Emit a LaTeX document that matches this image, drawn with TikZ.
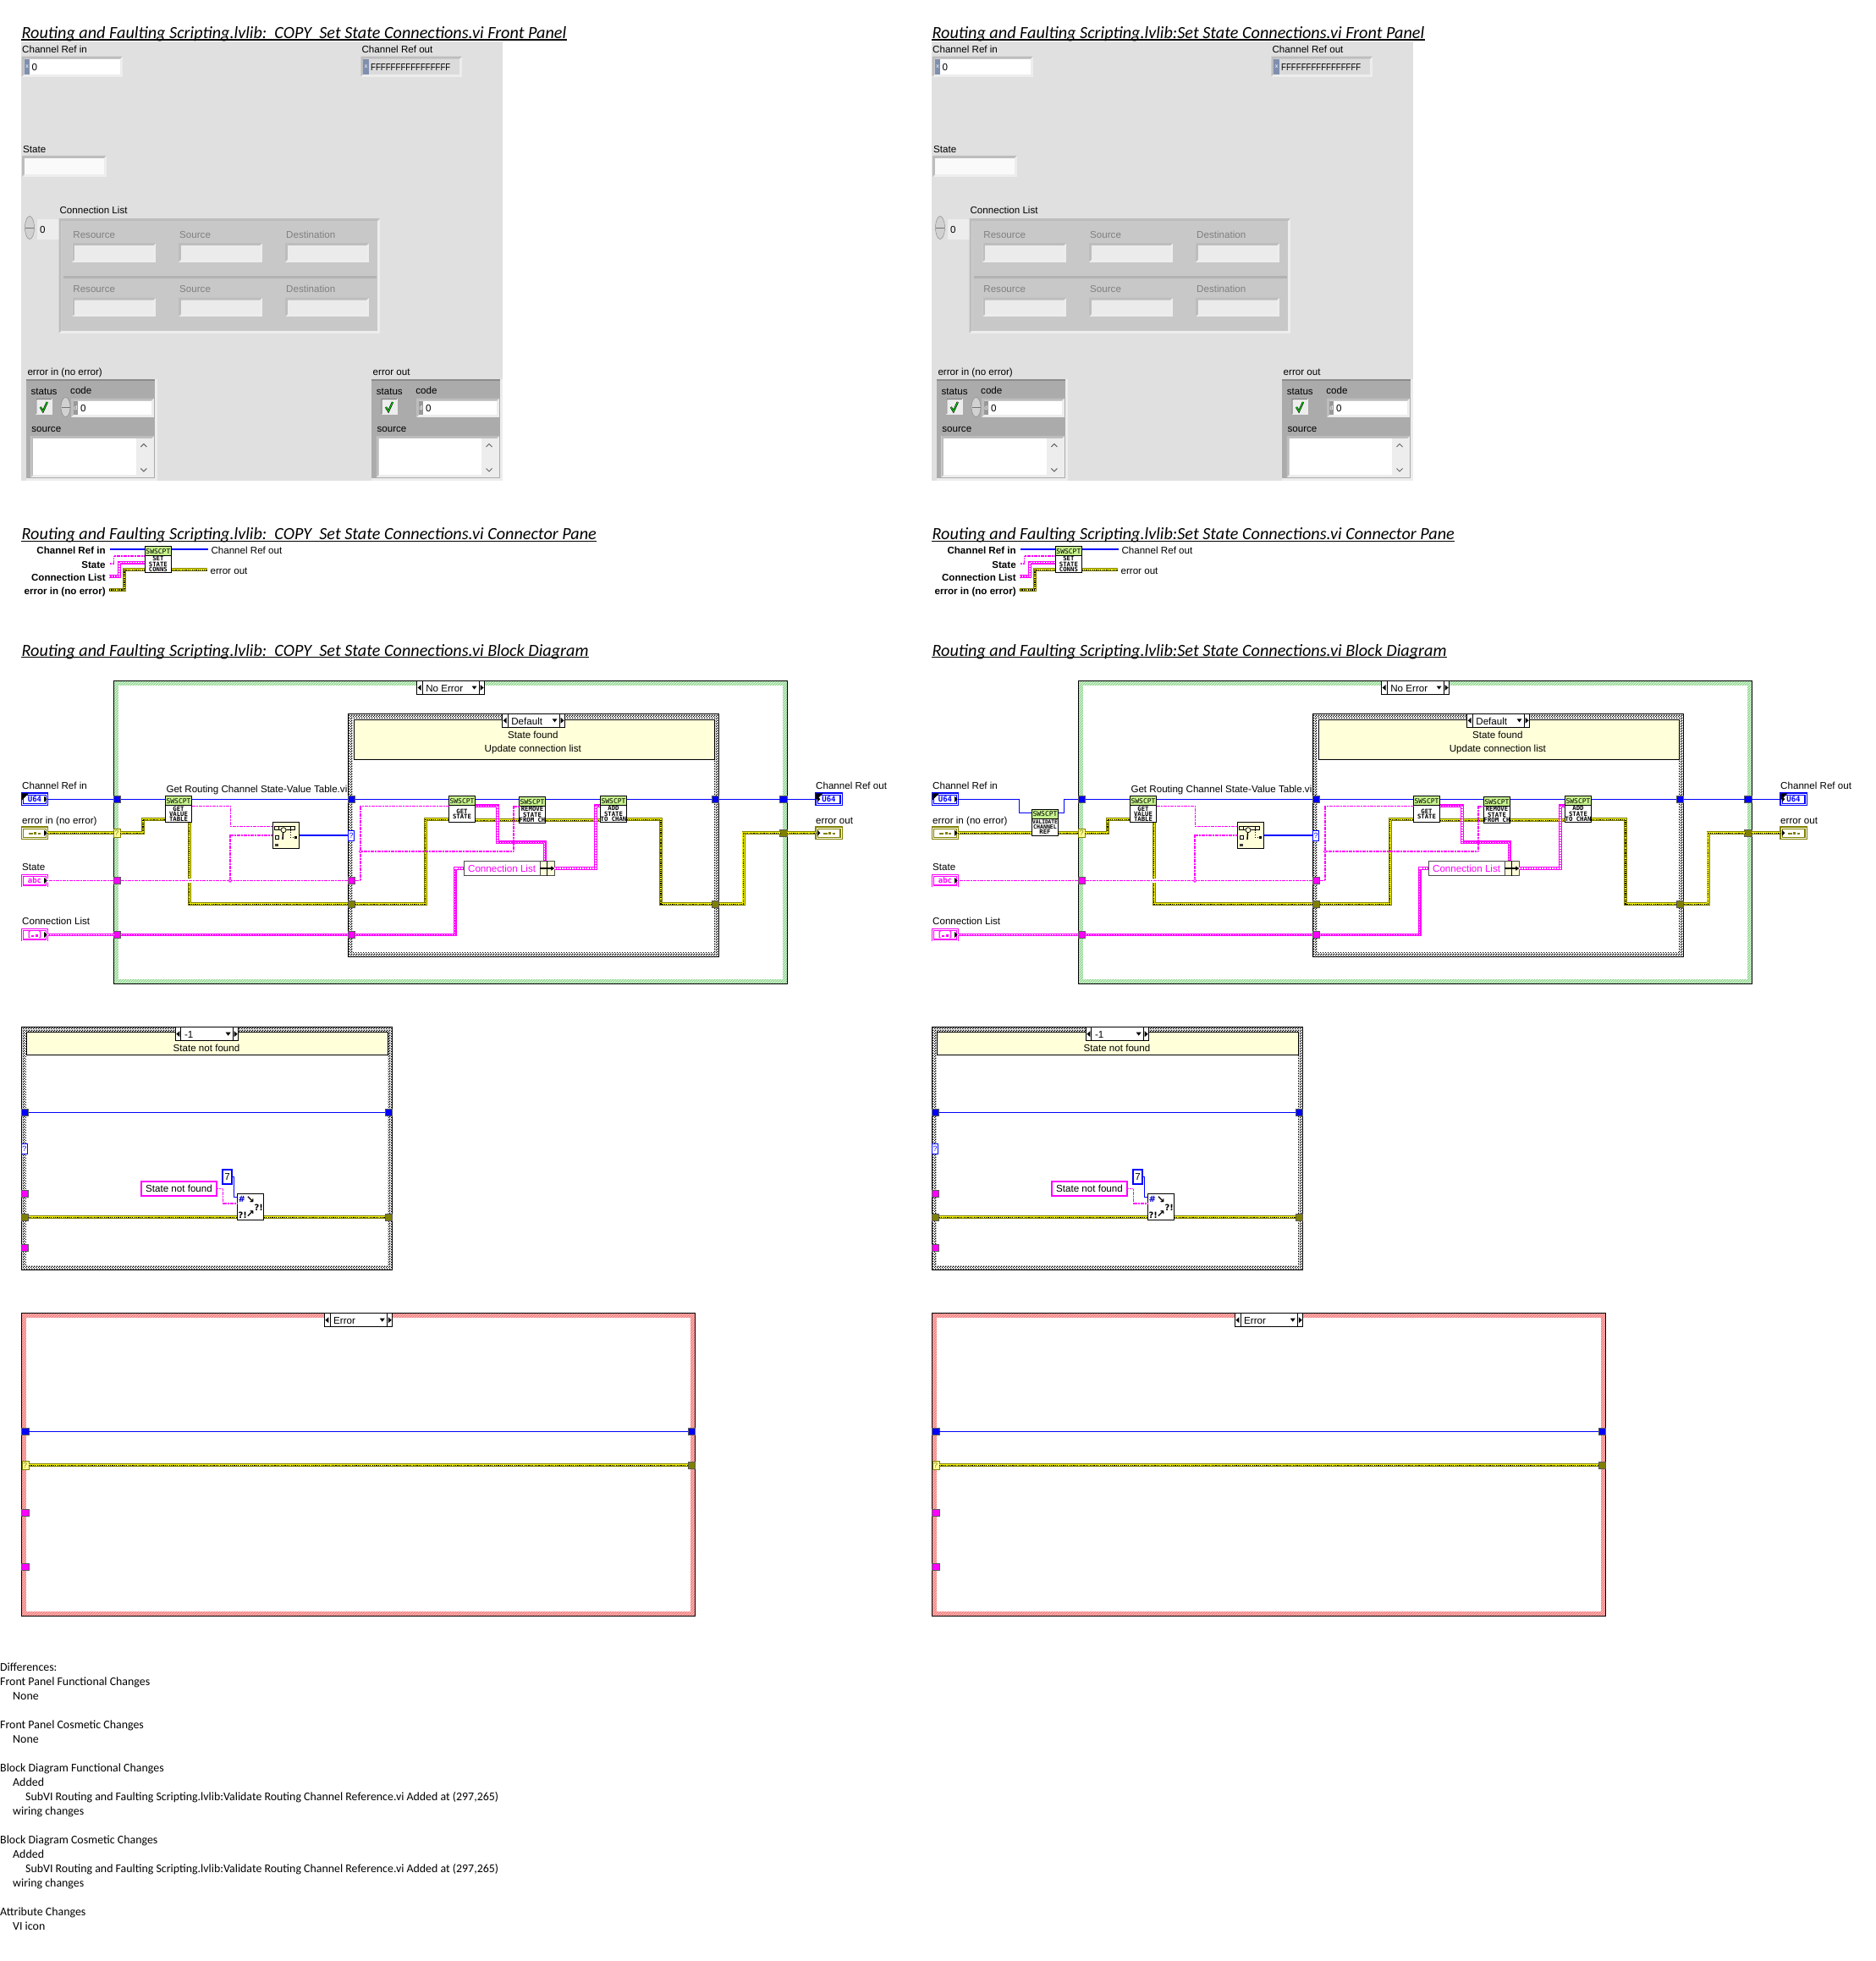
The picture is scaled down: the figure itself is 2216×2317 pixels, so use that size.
\documentclass[tikz,border=0pt]{standalone}
\usepackage{fontspec}
\usetikzlibrary{arrows.meta,positioning,patterns}
\setmainfont{Liberation Sans}
\newfontfamily\carlito{Carlito}
\newfontfamily\iconfont{DejaVu Sans Mono}
\newfontfamily\symfont{DejaVu Sans}
\definecolor{PanelGrey}{HTML}{E0E0E0}
\definecolor{RecessLight}{HTML}{EDEDED}
\definecolor{RecessDark}{HTML}{BDBDBD}
\definecolor{ArrayGrey}{HTML}{C8C8C8}
\definecolor{ClusterDark}{HTML}{ABABAB}
\definecolor{RadixBlue}{HTML}{7F8FAF}
\definecolor{WireBlue}{HTML}{0000FF}
\definecolor{WireMag}{HTML}{FF00FF}
\definecolor{WireOlive}{HTML}{808000}
\definecolor{WireYellow}{HTML}{F4F400}
\definecolor{HatchGreen}{HTML}{CFF2CF}
\definecolor{LineGreen}{HTML}{7CC87C}
\definecolor{HatchRed}{HTML}{FBB0B0}
\definecolor{LineRed}{HTML}{F07070}
\definecolor{Cream}{HTML}{FFFFD9}
\definecolor{HeadGreen}{HTML}{C6F28C}
\pgfdeclarepatternformonly{dither}{\pgfqpoint{0pt}{0pt}}{\pgfqpoint{3pt}{3pt}}{\pgfqpoint{3pt}{3pt}}{%
  \pgfpathrectangle{\pgfqpoint{0pt}{0pt}}{\pgfqpoint{1.5pt}{1.5pt}}%
  \pgfpathrectangle{\pgfqpoint{1.5pt}{1.5pt}}{\pgfqpoint{1.5pt}{1.5pt}}%
  \pgfusepath{fill}}
\tikzset{
  lvlabel/.style={font=\fontsize{11.6}{13}\selectfont,inner sep=0pt,anchor=west,text height=12pt,text depth=2pt},
  paneltext/.style={lvlabel,text=#1},
  panebold/.style={lvlabel,anchor=east,font=\fontsize{11.6}{13}\selectfont\bfseries},
  tinytext/.style={font=\fontsize{7}{7}\selectfont,inner sep=0pt,text=white},
  titletext/.style={font=\fontsize{20.2}{22}\selectfont\carlito\itshape,inner sep=0pt,anchor=south west,text depth=1.5pt},
  titlerule/.style={line width=1.5pt,draw=black},
  refwire/.style={draw=WireBlue,line width=1.1pt},
  strwire/.style={draw=WireMag,line width=1.6pt,dash pattern=on 1.2pt off 0.4pt},
  overwire/.style={preaction={draw=white,solid,line width=5pt}},
  errwire/.style={preaction={draw=WireOlive,solid,line width=4pt},preaction={draw=WireYellow,solid,line width=2.2pt},
    draw=black,line width=1.2pt,dash pattern=on 1.2pt off 1.2pt},
  clusterwire/.style={preaction={draw=WireMag,solid,line width=3.8pt},draw=white,line width=1.4pt,dash pattern=on 1.5pt off 1.5pt},
  tunnel/.style={draw=black!65,fill=#1,minimum size=8.4pt,inner sep=0pt,outer sep=0pt,line width=0.7pt},
  qbox/.style={draw=WireBlue,fill=white,text=WireBlue,minimum width=7.3pt,minimum height=11.4pt,inner sep=0pt,font=\fontsize{9}{9}\selectfont},
  qyellow/.style={draw=WireOlive,fill=Cream!70!yellow,text=WireOlive,minimum width=8pt,minimum height=10.6pt,inner sep=0pt,font=\fontsize{9}{9}\selectfont},
  junction/.style={circle,draw=WireMag,fill=white,line width=0.8pt,minimum size=3.4pt,inner sep=0pt},
  termbox/.style={draw=#1,text=#1,fill=white,double=white,double distance=0.7pt,line width=1.2pt,minimum width=29pt,minimum height=12.7pt,
    inner sep=0pt,font=\fontsize{9}{9}\selectfont\iconfont\bfseries},
  vibox/.style={draw=black,fill=white,line width=0.9pt,minimum width=31.4pt,minimum height=31.4pt,inner sep=0pt,outer sep=0pt},
  vihead/.style={draw=black,fill=HeadGreen,line width=0.7pt,minimum width=31.4pt,minimum height=11pt,inner sep=0pt,
    font=\fontsize{8}{8}\selectfont\iconfont},
  vitext/.style={align=center,inner sep=0pt,font=\fontsize{7.3}{6.2}\selectfont\iconfont\bfseries},
  greenframe/.style={anchor=north west,draw=black,line width=1pt,preaction={fill=HatchGreen},pattern=north east lines,pattern color=LineGreen,inner sep=0pt,outer sep=0pt},
  redframe/.style={anchor=north west,draw=black,line width=1pt,preaction={fill=HatchRed},pattern=north east lines,pattern color=LineRed,inner sep=0pt,outer sep=0pt},
  caseframe/.style={anchor=north west,draw=black,line width=1pt,preaction={fill=white},pattern=dither,pattern color=black,inner sep=0pt,outer sep=0pt},
  framehole/.style={fill=white,inner sep=0pt,outer sep=0pt},
  subnote/.style={anchor=north west,draw=black,fill=Cream,line width=0.9pt,inner sep=0pt},
  selbox/.style={draw=black,fill=white,line width=0.9pt,inner sep=0pt,minimum height=16.4pt},
  constbox/.style={draw=#1,fill=white,line width=2pt,inner sep=0pt,font=\fontsize{11.6}{13}\selectfont},
}
% recessed control frame: x1,y1,x2,y2,inner colour
\newcommand{\recessbox}[5]{%
  \fill[RecessLight] (#1,#2) rectangle (#3,#4);
  \fill[RecessDark] (#1,#2) -- (#3,#2) -- ({#3-3},{#2+3}) -- ({#1+3},{#2+3}) -- ({#1+3},{#4-3}) -- (#1,#4) -- cycle;
  \fill[#5] ({#1+3},{#2+3}) rectangle ({#3-3},{#4-3});
}
\newcommand{\spinner}[3]{%
  \draw[black!45,fill=black!18,line width=0.5pt] (#1,#2) ellipse (5.5pt and #3pt);
  \draw[black!55,line width=0.5pt] ({#1-5},#2) -- ({#1+5},#2);
}
% title with its rule: name, y of rule, text
\newcommand{\titleline}[3]{%
  \node[titletext] (#1) at (25.4,#2) {#3};
  \draw[titlerule] (#1.south west) -- (#1.south east);
}
% subVI with green banner: name, centre, caption
\newcommand{\vinode}[3]{%
  \node[vibox] (#1) at (#2) {};
  \node[vihead,anchor=north] (#1head) at (#1.north) {SWSCPT};
  \node[vitext] (#1text) at ([yshift=-5.5pt]#1.center) {#3};
}
% case selector: name, centre, width, text
\newcommand{\caseselect}[4]{%
  \node[selbox,minimum width=#3pt] (#1) at (#2) {};
  \node[lvlabel] (#1text) at ([xshift=11pt]#1.west) {#4};
  \draw[line width=0.8pt] ([xshift=7pt]#1.north west) -- ([xshift=7pt]#1.south west);
  \draw[line width=0.8pt] ([xshift=-7pt]#1.north east) -- ([xshift=-7pt]#1.south east);
  \fill ([xshift=1.5pt]#1.west) -- ++(4,3.5) -- ++(0,-7) -- cycle;
  \fill ([xshift=-1.5pt]#1.east) -- ++(-4,3.5) -- ++(0,-7) -- cycle;
  \fill ([xshift=-9.5pt,yshift=2pt]#1.east) -- ++(-6,0) -- ++(3,4) -- cycle;
}
% error cluster on the front panel: name, left x, label
\newcommand{\errcluster}[3]{%
  \begin{scope}[xshift=#2pt]
    \node[lvlabel] (#1label) at (1.5,438.5) {#3};
    \fill[RecessLight] (0,447.7) rectangle (155,568);
    \fill[ClusterDark] (0,447.7) rectangle (152,565);
    \fill[black!45] (0,447.7) rectangle (152,449.5);
    \node[lvlabel] (#1status) at (5.6,461) {status};
    \node[lvlabel] (#1code) at (52.2,460) {code};
    \fill[RecessLight] (11.5,471) rectangle (31.2,490);
    \fill[black!50] (11.5,471) rectangle (30,472) (11.5,471) rectangle (12.5,489);
    \draw[black,line width=2.2pt] (17,481) -- (20,486) -- (25,475);
    \draw[green!85!black,line width=1pt] (17,481) -- (20,486) -- (25,475);
    \recessbox{53.2}{470.6}{151}{492.8}{white}
    \fill[black!40] (55.8,473.6) rectangle (61.2,489.8);
    \node[tinytext] (#1radix) at (58.5,481.7) {d};
    \node[lvlabel] (#1zero) at (64,481.7) {0};
    \node[lvlabel] (#1source) at (6.4,505.5) {source};
    \recessbox{5.6}{515}{151.2}{564}{white}
    \fill[RecessLight] (130.2,518) rectangle (148.2,561);
    \draw[line width=1pt,black!60] (135.5,528) -- (139,524.5) -- (142.5,528);
    \draw[line width=1pt,black!60] (135.5,553.5) -- (139,557) -- (142.5,553.5);
  \end{scope}
}
\begin{document}
\begin{tikzpicture}[x=1pt,y=-1pt]
  \path[use as bounding box,fill=white] (0,0) rectangle (2216,2317);

  \foreach \pre/\dx/\vi in {L/0/{Routing and Faulting Scripting.lvlib:\ \ COPY\ \ Set State Connections.vi},
                            R/1076/{Routing and Faulting Scripting.lvlib:Set State Connections.vi}}{
  \begin{scope}[xshift=\dx pt,name prefix=\pre-]
    % Front panel
    \fill[PanelGrey] (25,49) rectangle (593.5,568);
    \titleline{fptitle}{47}{\vi\ Front Panel}
    \node[lvlabel] (fpref) at (26,57.7) {Channel Ref in};
    \recessbox{25.7}{66.6}{144.7}{90.6}{white}
    \fill[RadixBlue] (28.7,69.6) rectangle (35.2,87.6);
    \node[tinytext] (fprefx) at (32,78.6) {x};
    \node[lvlabel] (fprefval) at (37.5,78.6) {0};
    \node[lvlabel] (fpout) at (427.4,57.7) {Channel Ref out};
    \recessbox{426.3}{66.6}{546}{90.6}{black!14}
    \fill[RadixBlue] (429.3,69.6) rectangle (436,87.6);
    \node[tinytext] (fpoutx) at (432.6,78.6) {x};
    \node[lvlabel] (fpoutval) at (438,78.6) {\scalebox{0.83}[1]{FFFFFFFFFFFFFFFF}};
    \node[lvlabel] (fpstate) at (27,176) {State};
    \recessbox{26}{184}{125.7}{209}{black!2}

    % Connection list array
    \node[lvlabel] (fpconn) at (70.4,248) {Connection List};
    \spinner{35}{269}{13.5}
    \fill[RecessLight] (43.5,259) rectangle (69.6,283);
    \node[lvlabel] (fpindex) at (47,270.8) {0};
    \recessbox{69.6}{258.2}{448.8}{393.6}{ArrayGrey}
    \fill[black!30] (75,325.6) rectangle (444.8,329.3);
    \foreach \row/\ly/\by in {a/276/287,b/340/351.5}{
      \node[paneltext=black!50] (res\row) at (86.2,\ly) {Resource};
      \node[paneltext=black!50] (src\row) at (212,\ly) {Source};
      \node[paneltext=black!50] (dst\row) at (338,\ly) {Destination};
      \foreach \bx in {85.4,211.1,337}{
        \recessbox{\bx}{\by}{\bx+99}{\by+22.5}{black!8}
      }
    }

    % Error clusters
    \errcluster{errin}{30.8}{error in (no error)}
    \spinner{77.5}{481}{11.5}
    \errcluster{errout}{439}{error out}

    % Connector pane
    \titleline{cptitle}{639.3}{\vi\ Connector Pane}
    \vinode{panevi}{186.9,661}{SET\\STATE\\CONNS}
    \node[panebold] (paneref) at (124.9,649) {Channel Ref in};
    \node[panebold] (panestate) at (124.9,666) {State};
    \node[panebold] (paneconn) at (124.9,681) {Connection List};
    \node[panebold] (paneerr) at (124.9,697) {error in (no error)};
    \node[lvlabel] (paneout) at (249.3,649) {Channel Ref out};
    \node[lvlabel] (paneerrout) at (248.4,673.3) {error out};
    \draw[refwire] ([xshift=4.6pt]paneref.east) -- (paneref -| panevi.west);
    \draw[strwire] ([xshift=4.6pt]panestate.east) -- ++(5,0) |- ([yshift=4.3pt]panevi.west);
    \draw[clusterwire] ([xshift=3.6pt]paneconn.east) -- ++(12.5,0) |- ([yshift=-3.7pt]panevi.west);
    \draw[errwire] ([xshift=4pt]paneerr.east) -- ++(18,0) |- ([yshift=-12.3pt]panevi.west);
    \draw[refwire] (paneref -| panevi.east) -- ([xshift=-3.5pt]paneout.west |- paneref);
    \draw[errwire] ([yshift=-12.3pt]panevi.east) -- ([xshift=-3.5pt]paneerrout.west);

    % Block diagram title and terminals
    \titleline{bdtitle}{776.7}{\vi\ Block Diagram}
    \node[lvlabel] (lblrefin) at (26,927.7) {Channel Ref in};
    \node[lvlabel] (lblerrin) at (26,968) {error in (no error)};
    \node[lvlabel] (lblstate) at (26,1023.7) {State};
    \node[lvlabel] (lblconn) at (26,1087.7) {Connection List};
    \node[termbox=WireBlue] (crefin) at (41,944.3) {U64};
    \node[termbox=WireOlive] (cerrin) at (41,984.3) {\rule{5pt}{2pt}\,\rule{3pt}{3pt}\,\rule{3pt}{2pt}};
    \node[termbox=WireMag] (cstate) at (41,1040.5) {abc};
    \node[termbox=WireMag] (cconn) at (41,1104.5) {[\rule{3pt}{2pt}\,\rule{3pt}{3pt}]};
    \fill (crefin.north west) -- ++(8,0) -- ++(-8,8) -- cycle;
    \foreach \term in {crefin,cerrin,cstate,cconn}{
      \fill ([xshift=-0.5pt]\term.east) -- ++(-3.5,3.5) -- ++(0,-7) -- cycle;
    }

    % Case "State not found"
    \node[caseframe,minimum width=438.4pt,minimum height=287.4pt] (nofound) at (25.3,1213.3) {};
    \node[framehole,minimum width=426.4pt,minimum height=275.4pt] (nofoundin) at (nofound.center) {};
    \node[subnote,minimum width=426.4pt,minimum height=26.4pt] (nofoundnote) at (31.3,1219.3) {};
    \node[lvlabel,anchor=center] (nofoundtext) at (244,1237.7) {State not found};
    \caseselect{nofoundsel}{244.5,1221.7}{74.4}{-1}
    \node[tunnel=WireBlue] (nfrefl) at (29.6,1314.3) {};
    \node[tunnel=WireBlue] (nfrefr) at (459.4,1314.3) {};
    \node[qbox] (nfq) at (29,1357) {?};
    \node[tunnel=WireMag] (nfstate) at (29.6,1410.3) {};
    \node[tunnel=WireOlive] (nferrl) at (29.6,1438.3) {};
    \node[tunnel=WireOlive] (nferrr) at (459.4,1438.3) {};
    \node[tunnel=WireMag] (nfconn) at (29.6,1474.3) {};
    \node[vibox] (nfvi) at (296,1426) {};
    \node[constbox=WireMag,minimum width=89pt,minimum height=16.4pt] (nfstr) at (211.5,1404.5) {State not found};
    \node[constbox=WireBlue,minimum width=11pt,minimum height=17pt] (nfcode) at (268.5,1390.5) {7};
    \node[inner sep=0pt,font=\fontsize{10}{10}\selectfont\symfont\bfseries,text=WireBlue!80!black] (nfhash) at (285.7,1417) {\#};
    \node[inner sep=0pt,font=\fontsize{12}{12}\selectfont\symfont\bfseries] (nfarrow) at (296,1417.7) {↘};
    \node[inner sep=0pt,font=\fontsize{10}{10}\selectfont\symfont\bfseries] (nfbang) at (305.7,1426.7) {?!};
    \node[inner sep=0pt,font=\fontsize{10}{10}\selectfont\symfont\bfseries] (nfbangb) at (286.7,1435.3) {?!};
    \node[inner sep=0pt,font=\fontsize{12}{12}\selectfont\symfont\bfseries] (nfarrowb) at (296,1434.3) {↗};
    \draw[refwire] (nfrefl.east) -- (nfrefr.west);
    \draw[errwire] (nferrl.east) -- (nferrl -| nfvi.west);
    \draw[errwire] (nferrl -| nfvi.east) -- (nferrr.west);
    \draw[refwire] (nfcode.east) -- (276.6,1390.5) |- ([yshift=11.7pt]nfvi.west);
    \draw[strwire] (nfstr.east) -- (263.3,1404.5) |- ([yshift=4.3pt]nfvi.west);

    % Case "Error"
    \node[redframe,minimum width=796pt,minimum height=357.6pt] (errcase) at (25.7,1551.7) {};
    \node[framehole,minimum width=785.4pt,minimum height=347pt] (errcasein) at (errcase.center) {};
    \caseselect{errsel}{423.6,1559.7}{80.4}{Error}
    \node[tunnel=WireBlue] (ecrefl) at (29.7,1691.3) {};
    \node[tunnel=WireBlue] (ecrefr) at (817.6,1691.3) {};
    \node[qyellow] (ecq) at (29.7,1731.3) {?};
    \node[tunnel=WireOlive] (ecerrr) at (817.6,1731.3) {};
    \node[tunnel=WireMag] (ecstate) at (29.7,1787.3) {};
    \node[tunnel=WireMag] (ecconn) at (29.7,1851.3) {};
    \draw[refwire] (ecrefl.east) -- (ecrefr.west);
    \draw[errwire] (ecq.east) -- (ecerrr.west);
  \end{scope}
  }

  \foreach \pre/\dx in {L/0,R/1140}{
  \begin{scope}[xshift=\dx pt,name prefix=\pre-]
    % No Error frame
    \node[greenframe,minimum width=796pt,minimum height=358pt] (noerr) at (134.3,804.3) {};
    \node[framehole,minimum width=785.4pt,minimum height=347.4pt] (noerrin) at (noerr.center) {};
    \node[lvlabel] (getvallabel) at (196.3,931.7) {Get Routing Channel State-Value Table.vi};
    \caseselect{noerrsel}{532.6,812.5}{80}{No Error}

    % Default case
    \node[caseframe,minimum width=438.2pt,minimum height=287.4pt] (defcase) at (411.3,843.3) {};
    \node[framehole,minimum width=426.2pt,minimum height=275.4pt] (defcasein) at (defcase.center) {};
    \node[subnote,minimum width=425.9pt,minimum height=47.3pt] (defnote) at (417.7,850) {};
    \node[lvlabel,anchor=center] (defnotea) at (629.8,867.7) {State found};
    \node[lvlabel,anchor=center] (defnoteb) at (629.8,883) {Update connection list};
    \caseselect{defsel}{630.6,851.3}{74}{Default}

    % Tunnels
    \node[tunnel=WireBlue] (tref) at (138.5,944.3) {};
    \node[qyellow] (qerr) at (138,984.3) {?};
    \node[tunnel=WireMag] (tstate) at (138.5,1040.5) {};
    \node[tunnel=WireMag] (tconn) at (138.5,1104.5) {};
    \node[tunnel=WireBlue] (tcref) at (415.5,944.3) {};
    \node[qbox] (qcase) at (415,987) {?};
    \node[tunnel=WireMag] (tcstate) at (415.5,1040.5) {};
    \node[tunnel=WireOlive] (tcerr) at (415.5,1068.3) {};
    \node[tunnel=WireMag] (tcconn) at (415.5,1104.5) {};
    \node[tunnel=WireBlue] (tcrefr) at (845.3,944.3) {};
    \node[tunnel=WireOlive] (tcerrr) at (845.3,1068.3) {};
    \node[tunnel=WireBlue] (trefr) at (926,944.3) {};
    \node[tunnel=WireOlive] (terrr) at (926,984.3) {};

    % SubVIs and property node
    \vinode{getval}{211,956}{GET\\VALUE\\TABLE}
    \vinode{getstate}{546,956}{GET\\STATE}
    \vinode{remove}{629,957}{REMOVE\\STATE\\FROM CH}
    \vinode{addstate}{725,956}{ADD\\STATE\\TO CHAN}
    \node[draw=black,fill=Cream,minimum size=31.4pt,inner sep=0pt,line width=0.9pt] (search) at (338,987) {};
    \draw[black,line width=0.6pt] (324,976.3) rectangle (348.7,980.7) (329,976.3) -- (329,980.7) (343.7,976.3) -- (343.7,980.7);
    \draw[black,fill=Cream,line width=0.7pt] (335,980.7) circle (3pt);
    \draw[black,line width=1.4pt] (334.5,984) -- (334,992);
    \draw[black,fill=white,line width=0.7pt] (325.5,987) rectangle (329.5,991);
    \fill[black!75] (325,997) rectangle (329,999.5);
    \draw[black,dotted,line width=0.7pt] (343,980.7) -- (343,989) -- (348,989);
    \fill[black] (348,987.5) rectangle (351,990.5);
    \node[draw=black!70,fill=white,text=WireMag,inner sep=0pt,minimum width=90.2pt,minimum height=17.4pt,line width=0.8pt,font=\fontsize{11.6}{13}\selectfont] (connlist) at (593.1,1026) {Connection List};
    \node[draw=black!70,fill=Cream,inner sep=0pt,minimum width=16.8pt,minimum height=17.4pt,line width=0.8pt] (connio) at (646.6,1026) {};
    \draw[line width=0.8pt] (connio.north) -- (connio.south);
    \draw[-{Latex[length=4pt,width=6pt]},line width=1.8pt] (connio.west) -- (connio.east);

    % Indicators
    \node[lvlabel] (lblrefout) at (964,927.7) {Channel Ref out};
    \node[lvlabel] (lblerrout) at (964,968) {error out};
    \node[termbox=WireBlue] (irefout) at (979.5,944.3) {U64};
    \node[termbox=WireOlive] (ierrout) at (979.5,984.3) {\rule{5pt}{2pt}\,\rule{3pt}{3pt}\,\rule{3pt}{2pt}};
    \fill (irefout.north west) -- ++(8,0) -- ++(-8,8) -- cycle;
    \foreach \term in {irefout,ierrout}{
      \fill ([xshift=5pt]\term.west) -- ++(-3.5,3.5) -- ++(0,-7) -- cycle;
    }

    % Error wires
    \draw[errwire] (qerr.east) -- (169,984.3) |- ([yshift=-12.3pt]getval.west);
    \draw[errwire] ([xshift=12.7pt]getval.south) |- (tcerr.west);
    \draw[errwire] (tcerr.east) -- (502.7,1068.3) |- ([yshift=-12.3pt]getstate.west);
    \draw[errwire] ([yshift=-13.3pt]getstate.east) -- ([yshift=-12.3pt]remove.west);
    \draw[errwire] ([yshift=-12.3pt]remove.east) -- ([yshift=-13.3pt]addstate.west);
    \draw[errwire] ([yshift=-12.3pt]addstate.east) -- (780.9,968.3) |- (tcerrr.west);
    \draw[errwire] (tcerrr.east) -- (878.5,1068.3) |- (terrr.west);
    \draw[errwire] (terrr.east) -- (ierrout.west);

    % Reference wires
    \draw[refwire] (tref.east) -- (tref -| getval.west);
    \draw[refwire] (tref -| getval.east) -- (tcref.west);
    \draw[refwire] (tcref.east) -- (tcref -| getstate.west);
    \draw[refwire] (tcref -| getstate.east) -- (tcref -| remove.west);
    \draw[refwire] (tcref -| remove.east) -- (tcref -| addstate.west);
    \draw[refwire] (tcref -| addstate.east) -- (tcrefr.west);
    \draw[refwire] (tcrefr.east) -- (trefr.west);
    \draw[refwire] (trefr.east) -- (irefout.west);
    \draw[refwire] (search.east) -- (qcase.west);

    % String wires
    \draw[strwire,overwire] (tstate.east) -- (tcstate.west);
    \node[junction] (jstate) at (272,1040.5) {};
    \draw[strwire] ([yshift=3.7pt]getval.east) -- (272.3,952.3) |- ([yshift=10.7pt]search.west);
    \draw[strwire] (jstate.north) |- (search.west);
    \draw[strwire] (tcstate.east) -- (426,1040.5) |- ([yshift=3.7pt]getstate.west);
    \node[junction] (jcase) at (426,1006) {};
    \draw[clusterwire] ([yshift=3.7pt]getstate.east) -- (588,952.3) -- (588,995.3) -| ([xshift=-3pt]connio.north);
    \draw[strwire] (jcase.east) -- (607,1006) |- ([yshift=4.3pt]remove.west);

    % Cluster wires
    \draw[clusterwire] (tconn.east) -- (tcconn.west);
    \draw[clusterwire] (tcconn.east) -- (537.6,1104.5) |- (connlist.west);
    \draw[clusterwire] (connio.east) -- (703.9,1026) |- ([yshift=3.7pt]addstate.west);
  \end{scope}
  }

  % Terminals to the frame: direct on the left
  \draw[refwire] (L-crefin.east) -- (L-tref.west);
  \draw[errwire] (L-cerrin.east) -- (L-qerr.west);
  \draw[strwire,overwire] (L-cstate.east) -- (L-tstate.west);
  \draw[clusterwire] (L-cconn.east) -- (L-tconn.west);

  % On the right through the validate subVI
  \begin{scope}[name prefix=R-]
    \vinode{validate}{1235,971.8}{{\fontsize{6.2}{6.2}\selectfont VALIDATE}\\{\fontsize{6.6}{6.2}\selectfont CHANNEL}\\REF}
    \draw[refwire] (crefin.east) -- (1204.7,944.3) |- ([yshift=11.5pt]validate.west);
    \draw[refwire] ([yshift=11.5pt]validate.east) -- (1257.3,960.3) |- (tref.west);
    \draw[errwire] (cerrin.east) -- (cerrin -| validate.west);
    \draw[errwire] (cerrin -| validate.east) -- (qerr.west);
    \draw[strwire] (cstate.east) -- (tstate.west);
    \draw[clusterwire] (cconn.east) -- (tconn.west);
  \end{scope}

  % Differences
  \node[anchor=north west,inner sep=0pt,align=left,font=\fontsize{13.9}{17}\selectfont\carlito] (difflist) at (0,1964.5) {Differences:\\
    Front Panel Functional Changes\\
    \hspace*{15pt}None\\[17pt]
    Front Panel Cosmetic Changes\\
    \hspace*{15pt}None\\[17pt]
    Block Diagram Functional Changes\\
    \hspace*{15pt}Added\\
    \hspace*{30pt}SubVI Routing and Faulting Scripting.lvlib:Validate Routing Channel Reference.vi Added at (297,265)\\
    \hspace*{15pt}wiring changes\\[17pt]
    Block Diagram Cosmetic Changes\\
    \hspace*{15pt}Added\\
    \hspace*{30pt}SubVI Routing and Faulting Scripting.lvlib:Validate Routing Channel Reference.vi Added at (297,265)\\
    \hspace*{15pt}wiring changes\\[17pt]
    Attribute Changes\\
    \hspace*{15pt}VI icon};
\end{tikzpicture}
\end{document}
